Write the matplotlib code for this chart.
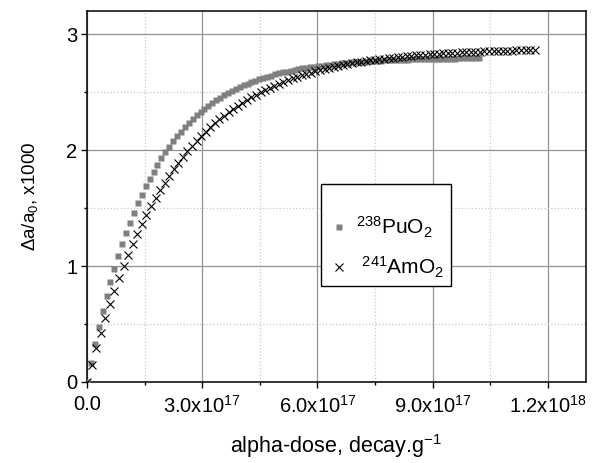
import matplotlib
matplotlib.use("Agg")
import numpy as np
import matplotlib.pyplot as plt
from matplotlib.ticker import MultipleLocator

plt.rcParams['font.family'] = ['Liberation Sans', 'DejaVu Sans']
plt.rcParams['mathtext.fontset'] = 'custom'
plt.rcParams['mathtext.rm'] = 'Liberation Sans'
plt.rcParams['mathtext.it'] = 'Liberation Sans:italic'

# alpha dose, units of 1e17 decay/g
pu_dose = [0, .102, .204, .306, .408, .510, .612, .714, .816, .918,
           1.020, 1.122, 1.224, 1.326, 1.428, 1.530, 1.632, 1.734, 1.836, 1.938,
           2.040, 2.142, 2.244, 2.346, 2.448, 2.550, 2.652, 2.754, 2.856, 2.958,
           3.060, 3.162, 3.264, 3.366, 3.468, 3.570, 3.672, 3.774, 3.876, 3.978,
           4.080, 4.182, 4.284, 4.386, 4.488, 4.590, 4.692, 4.794, 4.896, 4.998,
           5.100, 5.202, 5.304, 5.406, 5.508, 5.610, 5.712, 5.814, 5.916, 6.018,
           6.120, 6.222, 6.324, 6.426, 6.528, 6.630, 6.732, 6.834, 6.936, 7.038,
           7.140, 7.242, 7.344, 7.446, 7.548, 7.650, 7.752, 7.854, 7.956, 8.058,
           8.160, 8.262, 8.364, 8.466, 8.568, 8.670, 8.772, 8.874, 8.976, 9.078,
           9.180, 9.282, 9.384, 9.486, 9.588, 9.690, 9.792, 9.894, 9.996, 10.098,
           10.200]
pu_da = [0.000, 0.167, 0.324, 0.472, 0.611, 0.741, 0.864, 0.979, 1.088, 1.190,
         1.286, 1.376, 1.461, 1.541, 1.616, 1.687, 1.753, 1.816, 1.874, 1.930,
         1.982, 2.030, 2.076, 2.119, 2.160, 2.198, 2.234, 2.268, 2.300, 2.329,
         2.358, 2.384, 2.409, 2.432, 2.454, 2.475, 2.494, 2.512, 2.529, 2.546,
         2.561, 2.575, 2.588, 2.601, 2.613, 2.624, 2.635, 2.644, 2.654, 2.662,
         2.671, 2.678, 2.686, 2.692, 2.699, 2.705, 2.711, 2.716, 2.721, 2.726,
         2.730, 2.734, 2.738, 2.742, 2.745, 2.749, 2.752, 2.755, 2.757, 2.760,
         2.762, 2.764, 2.767, 2.769, 2.770, 2.772, 2.774, 2.775, 2.777, 2.778,
         2.780, 2.781, 2.782, 2.783, 2.784, 2.785, 2.786, 2.787, 2.788, 2.788,
         2.789, 2.790, 2.790, 2.791, 2.791, 2.792, 2.792, 2.793, 2.793, 2.794,
         2.794]

am_dose = [0, .119, .238, .357, .476, .595, .714, .833, .952, 1.071,
           1.190, 1.309, 1.428, 1.547, 1.666, 1.785, 1.904, 2.023, 2.142, 2.261,
           2.380, 2.499, 2.618, 2.737, 2.856, 2.975, 3.094, 3.213, 3.332, 3.451,
           3.570, 3.689, 3.808, 3.927, 4.046, 4.165, 4.284, 4.403, 4.522, 4.641,
           4.760, 4.879, 4.998, 5.117, 5.236, 5.355, 5.474, 5.593, 5.712, 5.831,
           5.950, 6.069, 6.188, 6.307, 6.426, 6.545, 6.664, 6.783, 6.902, 7.021,
           7.140, 7.259, 7.378, 7.497, 7.616, 7.735, 7.854, 7.973, 8.092, 8.211,
           8.330, 8.449, 8.568, 8.687, 8.806, 8.925, 9.044, 9.163, 9.282, 9.401,
           9.520, 9.639, 9.758, 9.877, 9.996, 10.115, 10.234, 10.353, 10.472, 10.591,
           10.710, 10.829, 10.948, 11.067, 11.186, 11.305, 11.424, 11.543, 11.662]
am_da = [0.000, 0.150, 0.292, 0.426, 0.554, 0.675, 0.789, 0.898, 1.001, 1.099,
         1.191, 1.279, 1.362, 1.441, 1.516, 1.587, 1.654, 1.718, 1.778, 1.835,
         1.890, 1.941, 1.990, 2.036, 2.080, 2.122, 2.161, 2.198, 2.234, 2.268,
         2.299, 2.330, 2.358, 2.385, 2.411, 2.435, 2.458, 2.480, 2.501, 2.521,
         2.540, 2.557, 2.574, 2.590, 2.605, 2.619, 2.633, 2.646, 2.658, 2.669,
         2.680, 2.691, 2.701, 2.710, 2.719, 2.727, 2.735, 2.743, 2.750, 2.757,
         2.763, 2.769, 2.775, 2.780, 2.785, 2.790, 2.795, 2.799, 2.804, 2.808,
         2.811, 2.815, 2.818, 2.822, 2.825, 2.827, 2.830, 2.833, 2.835, 2.838,
         2.840, 2.842, 2.844, 2.846, 2.847, 2.849, 2.851, 2.852, 2.854, 2.855,
         2.856, 2.858, 2.859, 2.860, 2.861, 2.862, 2.863, 2.864, 2.865]

xticks = [0, 3e17, 6e17, 9e17, 1.2e18]
xticklabels = ['0.0', r'3.0x10$^{17}$', r'6.0x10$^{17}$', r'9.0x10$^{17}$', r'1.2x10$^{18}$']

fig = plt.figure(figsize=(5.97, 4.63), dpi=100)
ax = fig.add_axes([0.1457, 0.175, 0.836, 0.801])

ax.plot(np.array(pu_dose) * 1e17, pu_da, 's', ms=4.7, color='#808080', mec='none',
        label=r'$^{238}$PuO$_2$', zorder=3)
ax.plot(np.array(am_dose) * 1e17, am_da, 'x', ms=5.8, mew=0.8, color='black',
        label=r' $^{241}$AmO$_2$', zorder=4)

ax.set_xlim(0, 1.3e18)
ax.set_ylim(0, 3.2)
ax.set_xticks(xticks)
ax.set_xticklabels(xticklabels)
ax.xaxis.set_minor_locator(MultipleLocator(1.5e17))
ax.set_yticks([0, 1, 2, 3])
ax.yaxis.set_minor_locator(MultipleLocator(0.5))

ax.grid(True, which='major', color='#929292', lw=0.9, ls='-')
ax.grid(True, which='minor', color='#c8c8c8', lw=0.9, ls=':')
ax.set_axisbelow(True)

ax.tick_params(which='major', direction='out', length=4.3, width=1, labelsize=14.5,
               pad=2.5, top=False, right=False)
ax.tick_params(which='minor', direction='out', length=2.5, width=1,
               top=False, right=False)
ax.tick_params(axis='x', which='major', pad=5)
for s in ax.spines.values():
    s.set_linewidth(1.1)

ax.set_xlabel(r'alpha-dose, decay.g$^{-1}$', fontsize=15.5, labelpad=11)
ax.set_ylabel(r'Δa/a$_0$, x1000', fontsize=13.5, labelpad=19)

leg = ax.legend(loc='upper left', bbox_to_anchor=(0.469, 0.534), borderaxespad=0,
                fontsize=15, frameon=True, fancybox=False, edgecolor='black',
                framealpha=1, handletextpad=0.3, handlelength=1.1, borderpad=0.3,
                labelspacing=0.7, markerscale=1.0, title=' ', title_fontsize=7)
leg.get_frame().set_linewidth(1.0)

fig.savefig('out.png', dpi=100)
